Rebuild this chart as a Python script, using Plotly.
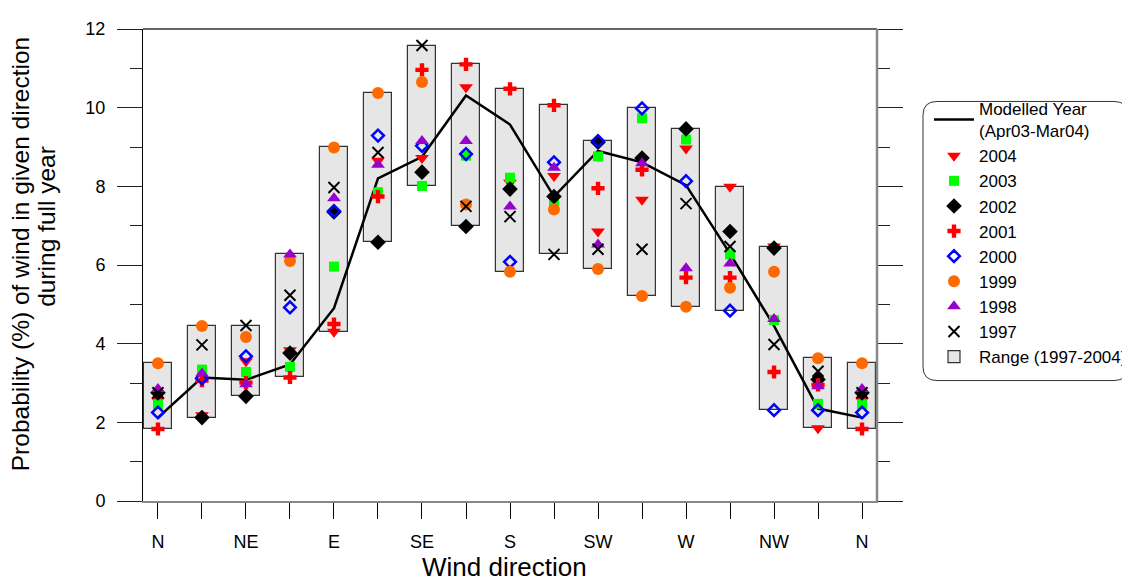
import numpy as np
import plotly.graph_objects as go

# ---- data ----
directions = ["N", "", "NE", "", "E", "", "SE", "", "S", "", "SW", "", "W", "", "NW", "", "N"]
positions = list(range(len(directions)))

modelled = [2.12, 3.14, 3.08, 3.47, 4.90, 8.20, 8.75, 10.31, 9.57, 7.74, 8.90, 8.61, 8.03, 6.29, 4.45, 2.35, 2.12]

y2004 = [2.55, 2.18, 3.55, 3.83, 4.30, 8.65, 8.72, 10.52, 8.09, 8.26, 6.85, 7.66, 8.96, 7.99, 6.47, 1.85, 2.55]
y2003 = [2.46, 3.34, 3.28, 3.41, 5.96, 7.85, 8.01, 8.78, 8.22, 7.62, 8.76, 9.73, 9.19, 6.27, 4.60, 2.47, 2.46]
y2002 = [2.75, 2.12, 2.66, 3.76, 7.35, 6.58, 8.36, 6.98, 7.93, 7.74, 9.12, 8.72, 9.46, 6.85, 6.43, 3.09, 2.75]
y2001 = [1.83, 3.06, 3.01, 3.14, 4.50, 7.74, 10.96, 11.10, 10.48, 10.06, 7.95, 8.42, 5.68, 5.68, 3.28, 2.95, 1.83]
y2000 = [2.25, 3.12, 3.68, 4.92, 7.37, 9.29, 9.03, 8.82, 6.08, 8.61, 9.15, 9.98, 8.13, 4.84, 2.31, 2.31, 2.25]
y1999 = [3.50, 4.45, 4.17, 6.10, 8.99, 10.37, 10.65, 7.54, 5.83, 7.41, 5.90, 5.21, 4.94, 5.42, 5.83, 3.63, 3.50]
y1998 = [2.85, 3.24, 2.97, 6.27, 7.70, 8.55, 9.15, 9.15, 7.49, 8.47, 6.52, 8.59, 5.92, 6.04, 4.63, 2.92, 2.85]
y1997 = [2.75, 3.97, 4.46, 5.23, 7.97, 8.86, 11.58, 7.49, 7.23, 6.27, 6.40, 6.40, 7.56, 6.47, 3.98, 3.30, 2.75]

years = [
    ("2004", y2004, dict(symbol="triangle-down", color="#ff0000", size=12)),
    ("2003", y2003, dict(symbol="square", color="#00ff00", size=10)),
    ("2002", y2002, dict(symbol="diamond", color="#000000", size=12)),
    ("2001", y2001, dict(symbol="cross", color="#ff0000", size=11)),
    ("2000", y2000, dict(symbol="diamond-open", color="#0000ff", size=9, line=dict(width=2.5, color="#0000ff"))),
    ("1999", y1999, dict(symbol="circle", color="#ff6a00", size=12)),
    ("1998", y1998, dict(symbol="triangle-up", color="#9900cc", size=12)),
    ("1997", y1997, dict(symbol="x-thin", color="#000000", size=11, line=dict(width=2, color="#000000"))),
]

all_years = np.array([v for _, v, _ in years])
rng_min = all_years.min(axis=0)
rng_max = all_years.max(axis=0)

FONT = "Liberation Sans, Arial, sans-serif"

fig = go.Figure()

fig.add_trace(go.Bar(
    x=positions, y=rng_max - rng_min, base=rng_min, width=0.62,
    marker=dict(color="#e6e6e6", line=dict(color="#333333", width=1.2)),
    name="Range (1997-2004)", legendrank=20, hoverinfo="skip",
))

fig.add_trace(go.Scatter(
    x=positions, y=modelled, mode="lines",
    line=dict(color="black", width=2.5),
    name="Modelled Year<br>(Apr03-Mar04)", legendrank=1,
))

for i, (name, vals, mk) in enumerate(years):
    fig.add_trace(go.Scatter(
        x=positions, y=vals, mode="markers", marker=mk,
        name=name, legendrank=2 + i,
    ))

# page body has an 8px margin; positions below are given in window pixels
W, H = 1122, 573

def px_x(p):
    return (p - 143) / 734.0

def px_y(p):
    return (501 - p) / 482.0

def cx(p):
    return (p - 8) / W

def cy(p):
    return 1 - (p - 8) / H

# rounded legend box
x0, x1 = px_x(923), px_x(1128)
y0, y1 = px_y(378), px_y(93)
rx, ry = 14 / 734.0, 14 / 482.0
path = (f"M {x0+rx},{y1} L {x1-rx},{y1} Q {x1},{y1} {x1},{y1-ry} "
        f"L {x1},{y0+ry} Q {x1},{y0} {x1-rx},{y0} L {x0+rx},{y0} "
        f"Q {x0},{y0} {x0},{y0+ry} L {x0},{y1-ry} Q {x0},{y1} {x0+rx},{y1} Z")

fig.update_layout(
    width=W, height=H,
    margin=dict(l=135, r=253, t=11, b=80),
    paper_bgcolor="white", plot_bgcolor="white",
    font=dict(family=FONT, size=18, color="black"),
    showlegend=True,
    bargap=0,
    legend=dict(
        xref="container", yref="container",
        x=cx(929), y=cy(91), xanchor="left", yanchor="top",
        bgcolor="rgba(0,0,0,0)", borderwidth=0,
        font=dict(family=FONT, size=17, color="black"),
        tracegroupgap=0, itemwidth=40,
    ),
    xaxis=dict(
        range=[-0.34, 16.34],
        tickmode="array", tickvals=positions, ticktext=directions,
        ticks="outside", ticklen=16, tickwidth=1, tickcolor="black",
        showline=True, linecolor="#888888", linewidth=1.5,
        showgrid=False, zeroline=False,
        tickfont=dict(family=FONT, size=18),
        ticklabelstandoff=8,
    ),
    yaxis=dict(
        range=[0, 12], dtick=2, tick0=0,
        ticks="outside", ticklen=25, tickwidth=1, tickcolor="#222222",
        minor=dict(dtick=1, ticks="outside", ticklen=12, tickcolor="#222222", tickwidth=1),
        showline=True, linecolor="black", linewidth=1, mirror="ticks",
        showgrid=False, zeroline=False,
        tickfont=dict(family=FONT, size=18),
        ticklabelstandoff=8,
    ),
    shapes=[
        dict(type="line", xref="paper", yref="paper", x0=0, x1=1, y0=1, y1=1,
             line=dict(color="#333333", width=1.5)),
        dict(type="line", xref="paper", yref="paper", x0=1, x1=1, y0=0, y1=1,
             line=dict(color="#888888", width=2.5)),
        dict(type="path", xref="paper", yref="paper", path=path,
             line=dict(color="#333333", width=1), fillcolor="rgba(0,0,0,0)"),
    ],
    annotations=[
        dict(text="Wind direction", xref="paper", yref="paper",
             x=px_x(504), y=px_y(568), xanchor="center", yanchor="middle",
             showarrow=False, font=dict(family=FONT, size=26)),
        dict(text="Probability (%) of wind in given direction", xref="paper", yref="paper",
             x=px_x(20), y=px_y(249), xanchor="center", yanchor="middle", textangle=-90,
             showarrow=False, font=dict(family=FONT, size=24.5)),
        dict(text="during full year", xref="paper", yref="paper",
             x=px_x(47), y=px_y(221), xanchor="center", yanchor="middle", textangle=-90,
             showarrow=False, font=dict(family=FONT, size=24.5)),
    ],
)

fig.write_html("out.html")
